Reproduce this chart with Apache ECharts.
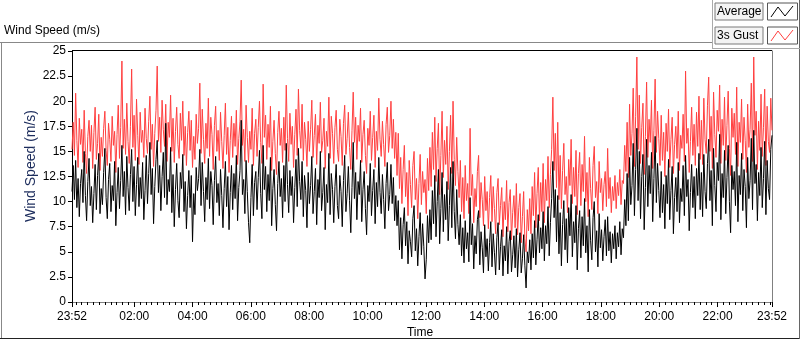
<!DOCTYPE html>
<html>
<head>
<meta charset="utf-8">
<script src="https://cdn.jsdelivr.net/npm/echarts@6/dist/echarts.min.js"></script>
<style>
  html, body { margin: 0; padding: 0; background: #fff; }
  #chart { width: 800px; height: 342px; }
</style>
</head>
<body>
<div id="chart"></div>
<script>
// 3s gust, one reading every 2.5 min from 23:52 to 23:52
const gust = [
  15.2, 17.9, 14.6, 20.8, 16.1, 13.4, 18.3, 15.7, 17.2, 13.9, 19.1, 14.8,
  12.8, 16.5, 18.1, 15.0, 17.6, 13.3, 16.9, 19.4, 14.2, 15.8, 18.7, 13.1,
  16.4, 14.5, 17.3, 19.0, 15.1, 13.6, 17.8, 16.2, 14.0, 18.5, 15.6, 17.0,
  12.9, 16.7, 19.6, 14.3, 17.4, 24.0, 15.3, 18.2, 14.7, 19.8, 16.0, 13.8,
  17.5, 23.2, 15.4, 18.6, 14.1, 20.2, 16.6, 13.7, 18.9, 15.9, 17.1, 14.4,
  19.3, 16.3, 14.8, 18.0, 20.5, 15.2, 17.7, 13.5, 16.8, 19.1, 23.5, 16.0,
  18.4, 14.9, 20.1, 17.2, 15.5, 19.7, 14.0, 17.9, 16.4, 20.6, 15.0, 18.3,
  13.9, 17.0, 19.4, 15.7, 14.3, 18.8, 16.1, 20.0, 14.6, 17.5, 13.6, 16.9,
  19.0, 15.1, 18.1, 13.4, 16.5, 14.2, 18.7, 15.8, 17.3, 21.8, 14.8, 19.2,
  16.2, 13.8, 17.8, 15.3, 20.3, 14.5, 18.4, 16.7, 13.2, 17.6, 19.5, 15.0,
  17.1, 14.1, 18.9, 16.0, 13.3, 16.6, 19.8, 14.7, 17.4, 12.9, 16.1, 18.5,
  14.4, 17.8, 15.5, 19.1, 13.7, 16.3, 18.0, 22.1, 15.6, 17.2, 14.0, 19.6, 16.4, 13.9,
  17.0, 15.2, 19.3, 13.6, 16.8, 18.2, 14.5, 17.4, 20.0, 15.9, 13.8, 21.7,
  16.4, 18.6, 14.2, 17.7, 15.4, 19.5, 13.1, 16.0, 18.1, 14.8, 12.7, 16.9,
  19.0, 15.6, 17.3, 13.9, 18.4, 15.1, 21.6, 16.3, 14.0, 18.8, 15.7, 17.5,
  13.4, 16.7, 19.2, 14.6, 21.2, 17.1, 15.3, 19.7, 14.1, 17.9, 16.2, 13.5,
  18.0, 15.0, 17.2, 20.1, 14.4, 16.6, 18.7, 13.7, 17.6, 15.8, 19.9, 14.9,
  16.1, 18.3, 13.3, 17.0, 15.5, 20.4, 14.3, 18.5, 16.8, 13.8, 17.4, 19.1,
  15.2, 14.0, 18.2, 16.5, 13.6, 17.8, 19.6, 14.7, 16.3, 18.9, 15.4, 13.2,
  17.1, 20.9, 15.9, 18.4, 14.2, 17.6, 16.0, 19.3, 13.9, 16.7, 18.1, 14.6,
  12.8, 17.3, 15.6, 19.0, 14.1, 16.4, 18.6, 13.4, 17.0, 15.1, 20.3, 16.2,
  14.5, 18.0, 15.7, 13.5, 17.7, 19.4, 14.9, 16.6, 20.0, 15.3, 18.2, 14.3, 16.9,
  12.6, 16.8, 11.3, 14.4, 9.8, 13.2, 15.6, 10.5, 12.9, 8.6, 14.1, 11.7,
  9.4, 13.6, 15.0, 10.2, 12.3, 8.3, 11.8, 14.7, 9.7, 13.0, 10.9, 12.2, 8.8, 14.3, 11.1, 15.4,
  11.5, 16.9, 13.2, 18.4, 12.0, 15.3, 17.8, 10.7, 14.6, 19.0, 12.4, 16.1,
  13.7, 17.5, 11.2, 15.0, 18.6, 12.8, 20.0, 14.2, 11.6, 16.4, 13.0, 10.4,
  14.1, 9.0, 12.4, 8.3, 13.6, 10.1, 11.8, 8.8, 17.3, 10.6, 12.7, 7.9,
  11.3, 9.5, 13.0, 14.6, 8.4, 11.9, 10.2, 7.6, 12.5, 9.1, 11.0, 7.3,
  10.4, 12.6, 8.0, 11.5, 9.3, 6.8, 10.9, 12.3, 7.7, 9.6, 11.4, 6.5,
  10.0, 8.2, 12.1, 7.0, 9.9, 11.2, 6.2, 8.9, 10.6, 7.4, 11.8, 6.7,
  9.4, 10.8, 5.9, 8.5, 11.0, 6.3, 5.0, 9.2, 7.1, 10.3,
  6.8, 11.5, 8.6, 12.9, 7.4, 10.8, 13.4, 8.1, 11.9, 9.0, 13.8, 7.9,
  12.2, 10.1, 14.5, 9.4, 12.7, 15.2, 20.4, 13.1, 16.8,
  11.4, 17.9, 10.2, 14.6, 9.3, 13.1, 15.8, 10.7, 12.5, 8.9, 14.2, 11.6,
  16.2, 9.8, 13.4, 10.5, 15.1, 8.7, 12.8, 14.9, 9.6, 13.7, 11.0, 16.5,
  10.0, 12.9, 8.5, 14.4, 11.3, 9.2, 13.6, 15.5, 10.4, 12.0, 8.8, 14.0,
  10.9, 12.3, 9.1, 11.7, 13.0, 9.5, 15.3, 10.3, 12.4, 8.9, 11.5, 10.1,
  12.6, 9.3, 11.9, 10.6, 13.2, 9.7, 12.1,
  11.8, 15.6, 13.0, 17.9, 12.4, 19.7, 14.6, 16.8, 21.3, 13.5, 18.5, 24.4,
  15.2, 20.6, 13.8, 17.4, 19.8, 12.7, 16.5, 21.9, 14.4, 18.2, 15.9, 20.1,
  13.3, 17.1, 22.2, 14.9, 19.0, 16.3, 13.6,
  18.6, 14.1, 16.9, 12.5, 17.8, 15.0, 19.2, 13.4, 16.2, 18.4, 12.8, 15.7,
  17.5, 14.3, 19.0, 13.1, 16.6, 15.3, 18.7, 14.0, 23.0, 15.8, 17.3, 12.9,
  16.0, 19.4, 14.6, 17.7, 13.6, 18.9, 15.5, 20.5, 14.2,
  18.1, 13.7, 20.3, 16.2, 14.8, 19.6, 22.4, 15.0, 18.5, 13.3, 20.9, 16.7,
  14.4, 19.1, 17.0, 21.6, 13.8, 18.2, 15.6, 20.4, 14.1, 17.6, 21.0, 15.3,
  12.6, 19.3, 16.4, 18.8, 14.7, 21.4, 13.5, 17.9, 15.9, 20.2, 14.2, 18.4,
  16.1, 12.9, 19.7, 15.4, 17.2, 21.8, 14.0, 24.4, 16.6, 19.0, 13.2, 18.0,
  15.1, 20.7, 14.5, 17.4, 21.2, 13.6, 19.5, 16.0, 14.9, 20.3, 17.1
];

// average wind speed at the same instants
const average = [
  11.0, 13.6, 10.2, 14.1, 9.4, 12.3, 8.5, 11.8, 13.2, 9.9, 15.0, 10.6,
  8.1, 12.0, 14.3, 9.6, 11.5, 7.9, 10.8, 13.7, 9.2, 12.6, 14.8, 8.8,
  11.3, 9.7, 12.9, 15.3, 10.4, 8.3, 12.2, 13.8, 9.0, 11.6, 10.1, 14.0,
  7.6, 10.9, 13.4, 9.3, 12.1, 15.6, 10.5, 13.0, 8.7, 14.5, 11.4, 9.1,
  12.7, 15.2, 10.0, 13.5, 8.6, 11.7, 14.4, 9.5, 12.4, 10.3, 13.9, 8.2,
  11.1, 14.6, 9.8, 12.8, 15.9, 10.7, 13.3, 7.8, 11.5, 14.2, 16.1, 10.9,
  13.6, 9.1, 12.5, 14.9, 10.4, 17.8, 9.7, 12.2, 11.0, 15.4, 8.9, 12.7,
  7.5, 11.2, 13.8, 10.1, 8.4, 12.9, 11.3, 14.7, 9.0, 12.0, 7.3, 10.6,
  13.1, 9.4, 12.6, 6.0, 10.8, 8.7, 13.4, 11.1, 12.3, 15.2, 9.6, 13.9,
  11.0, 8.0, 12.4, 10.2, 14.3, 9.3, 13.0, 11.6, 7.7, 12.1, 14.5, 9.9,
  11.8, 8.6, 13.2, 10.6, 7.4, 11.3, 14.0, 9.5, 12.5, 7.2, 10.9, 13.6,
  9.2, 12.8, 10.3, 14.6, 8.1, 11.4, 13.1, 18.1, 10.7, 12.2, 8.8, 14.1, 11.0, 7.9,
  5.9, 10.4, 13.7, 8.6, 11.9, 13.0, 9.2, 12.4, 15.1, 10.8, 8.3, 15.6,
  11.2, 13.5, 9.0, 12.7, 10.1, 14.4, 7.6, 11.3, 13.2, 9.7, 7.1, 11.8,
  14.0, 10.5, 12.3, 8.4, 13.6, 10.0, 15.8, 11.7, 8.9, 13.1, 10.6, 12.5,
  7.9, 11.4, 14.2, 9.5, 15.3, 12.0, 10.2, 14.0, 8.5, 12.6, 11.1, 7.4,
  12.9, 9.8, 11.6, 14.5, 8.8, 11.0, 13.3, 7.7, 12.2, 10.4, 15.0, 9.1,
  10.9, 13.4, 7.2, 11.7, 9.9, 14.8, 8.7, 12.8, 11.2, 7.9, 11.5, 13.7,
  9.6, 8.3, 12.6, 11.0, 7.5, 12.1, 14.6, 9.0, 10.8, 13.5, 10.1, 6.9,
  11.4, 15.9, 10.3, 12.9, 8.2, 12.0, 10.7, 14.1, 8.0, 11.2, 13.0, 9.3,
  6.7, 11.6, 10.0, 13.8, 8.6, 11.1, 13.2, 7.8, 11.9, 9.5, 14.4, 10.9,
  8.8, 12.7, 10.2, 7.3, 11.8, 13.9, 9.1, 10.7, 13.7, 9.8, 12.4, 8.1, 10.6,
  7.6, 10.1, 5.2, 8.4, 4.3, 7.7, 9.4, 5.6, 8.0, 3.8, 7.1, 6.0,
  4.5, 8.3, 9.6, 5.1, 7.3, 3.6, 6.5, 8.9, 4.7, 7.8, 5.5, 2.3, 4.2, 8.6, 5.9, 9.2,
  6.2, 11.1, 7.8, 12.6, 6.5, 10.0, 13.2, 5.8, 9.3, 12.9, 7.0, 10.7,
  8.2, 12.0, 6.1, 9.6, 13.4, 7.4, 14.0, 9.0, 6.3, 11.2, 7.7, 5.7,
  8.7, 4.6, 7.4, 3.9, 8.1, 5.3, 6.9, 4.0, 10.4, 5.7, 7.8, 3.3,
  6.6, 4.8, 8.2, 9.1, 3.7, 7.0, 5.4, 2.9, 7.7, 4.5, 6.3, 3.1,
  5.9, 8.0, 3.5, 6.8, 4.9, 2.7, 6.4, 7.9, 3.2, 5.5, 7.2, 2.6,
  5.6, 4.1, 7.5, 2.8, 6.0, 7.1, 3.0, 4.7, 6.6, 3.4, 7.3, 2.5,
  5.2, 6.9, 2.9, 4.3, 6.7, 3.6, 1.4, 5.0, 3.9, 6.2,
  3.2, 6.8, 4.4, 8.1, 3.7, 6.2, 8.7, 4.9, 7.4, 5.3, 9.0, 4.1,
  7.6, 5.8, 9.5, 4.6, 7.9, 10.3, 14.0, 8.4, 11.2,
  6.0, 10.6, 4.8, 8.9, 3.6, 7.7, 10.1, 5.2, 8.3, 3.9, 9.4, 6.6,
  10.7, 4.5, 8.0, 5.9, 9.6, 3.2, 7.3, 9.1, 4.4, 8.5, 5.6, 10.3,
  4.9, 7.6, 3.0, 9.2, 6.1, 4.2, 8.4, 10.0, 5.0, 7.1, 3.5, 8.8,
  5.4, 7.2, 4.1, 6.5, 8.2, 4.6, 8.5, 5.1, 7.0, 3.9, 6.8, 5.3,
  7.6, 4.3, 6.9, 5.5, 8.0, 4.7, 7.3,
  6.4, 10.2, 7.6, 12.8, 8.1, 14.4, 9.7, 11.6, 15.8, 8.6, 13.2, 17.3,
  10.1, 15.0, 8.3, 12.5, 14.7, 7.2, 11.4, 16.2, 9.5, 13.6, 10.8, 14.9,
  8.0, 12.3, 16.5, 9.9, 13.8, 11.1, 8.4,
  13.0, 8.9, 11.7, 7.3, 12.6, 9.8, 14.2, 8.2, 11.1, 13.5, 6.8, 10.4,
  12.4, 9.0, 13.9, 7.9, 11.3, 10.0, 13.6, 8.6, 14.6, 10.5, 12.2, 7.1,
  10.9, 13.7, 9.4, 12.5, 8.3, 13.3, 10.6, 14.8, 9.2,
  12.9, 8.5, 14.7, 11.0, 9.3, 13.8, 16.2, 10.1, 13.1, 7.6, 15.3, 11.6,
  9.0, 13.9, 12.1, 16.7, 8.2, 12.8, 10.4, 15.1, 8.8, 12.4, 15.6, 10.0,
  6.9, 13.6, 11.2, 13.0, 9.6, 15.9, 8.0, 12.6, 10.7, 14.8, 9.1, 13.2,
  11.5, 7.4, 14.4, 10.3, 12.1, 16.3, 9.2, 17.1, 11.8, 13.7, 8.1, 12.9,
  10.6, 15.4, 9.4, 12.3, 16.0, 8.7, 14.1, 11.3, 10.2, 15.2, 16.6
];

// x axis in minutes after 23:52
const spanMinutes = 1440;
const majorTicks = [0, 128, 248, 368, 488, 608, 728, 848, 968, 1088, 1208, 1328, 1440];
const majorLabels = ["23:52", "02:00", "04:00", "06:00", "08:00", "10:00", "12:00", "14:00", "16:00", "18:00", "20:00", "22:00", "23:52"];
const minorTicks = [];
for (let m = 8; m < spanMinutes; m += 12) minorTicks.push(m);

const yTicks = ["0", "2.5", "5", "7.5", "10", "12.5", "15", "17.5", "20", "22.5", "25"];

const gustData = gust.map((v, i) => [i * spanMinutes / (gust.length - 1), v]);
const avgData = average.map((v, i) => [i * spanMinutes / (average.length - 1), v]);

const FONT = "Liberation Sans";
const chart = echarts.init(document.getElementById("chart"));

const legendBox = (y, label, color) => [
  {
    type: "rect",
    shape: { x: 715, y: y, width: 48, height: 17 },
    style: { fill: "#f4f4f4", stroke: "#7a7a7a", lineWidth: 1 },
  },
  {
    type: "text",
    x: 717, y: y + 9,
    style: { text: label, font: "12px " + FONT, fill: "#000", verticalAlign: "middle" },
  },
  {
    type: "rect",
    shape: { x: 767.5, y: y, width: 30, height: 17 },
    style: { fill: "#fff", stroke: "#555", lineWidth: 1 },
  },
  {
    type: "polyline",
    shape: { points: [[771, y + 14], [778, y + 4], [785, y + 13], [793, y + 3]] },
    style: { stroke: color, lineWidth: 1, fill: null },
  },
];

chart.setOption({
  animation: false,
  backgroundColor: "#fff",
  grid: { left: 72, right: 28, top: 51, bottom: 40 },
  xAxis: [
    {
      type: "value",
      min: 0,
      max: spanMinutes,
      axisLine: { show: true, lineStyle: { color: "#808080", width: 1 } },
      axisTick: { show: true, customValues: majorTicks, length: 5, lineStyle: { color: "#000" } },
      axisLabel: {
        customValues: majorTicks,
        margin: 9,
        color: "#000",
        fontFamily: FONT,
        fontSize: 12,
        formatter: (v) => majorLabels[majorTicks.indexOf(v)] || "",
      },
      splitLine: { show: false },
    },
    {
      type: "value",
      min: 0,
      max: spanMinutes,
      position: "bottom",
      axisLine: { show: false },
      axisTick: { show: true, customValues: minorTicks, length: 3, lineStyle: { color: "#000" } },
      axisLabel: { show: false },
      splitLine: { show: false },
    },
  ],
  yAxis: {
    type: "value",
    min: 0,
    max: 25,
    interval: 2.5,
    axisLine: { show: true, lineStyle: { color: "#000", width: 1 } },
    axisTick: { show: true, inside: false, length: 4, lineStyle: { color: "#000" } },
    axisLabel: {
      margin: 6,
      color: "#000",
      fontFamily: FONT,
      fontSize: 12,
      formatter: (v) => yTicks[Math.round(v / 2.5)],
    },
    splitLine: { show: false },
  },
  series: [
    {
      name: "3s Gust",
      type: "line",
      data: gustData,
      showSymbol: false,
      sampling: "none",
      lineStyle: { color: "#ff4040", width: 1 },
      z: 2,
    },
    {
      name: "Average",
      type: "line",
      data: avgData,
      showSymbol: false,
      sampling: "none",
      lineStyle: { color: "#000", width: 1 },
      z: 3,
    },
  ],
  graphic: [
    // outer frame
    { type: "line", shape: { x1: 0, y1: 42.5, x2: 712, y2: 42.5 }, style: { stroke: "#888", lineWidth: 1 } },
    { type: "line", shape: { x1: 1.5, y1: 42.5, x2: 1.5, y2: 339 }, style: { stroke: "#888", lineWidth: 1 } },
    { type: "line", shape: { x1: 0, y1: 338.5, x2: 800, y2: 338.5 }, style: { stroke: "#222", lineWidth: 1 } },
    { type: "line", shape: { x1: 799.5, y1: 0, x2: 799.5, y2: 339 }, style: { stroke: "#666", lineWidth: 1 } },
    // legend panel edges
    { type: "line", shape: { x1: 712.5, y1: 0, x2: 712.5, y2: 49 }, style: { stroke: "#aaa", lineWidth: 1 } },
    { type: "line", shape: { x1: 712, y1: 48.5, x2: 800, y2: 48.5 }, style: { stroke: "#aaa", lineWidth: 1 } },
    // plot frame top and right
    { type: "line", shape: { x1: 72, y1: 50.5, x2: 772, y2: 50.5 }, style: { stroke: "#000", lineWidth: 1 } },
    { type: "line", shape: { x1: 772.5, y1: 50.5, x2: 772.5, y2: 302 }, style: { stroke: "#808080", lineWidth: 1 } },
    // titles
    {
      type: "text", x: 4, y: 31,
      style: { text: "Wind Speed (m/s)", font: "12px " + FONT, fill: "#000", verticalAlign: "middle" },
    },
    {
      type: "text", x: 31, y: 166, rotation: Math.PI / 2,
      style: { text: "Wind Speed (m/s)", font: "14px " + FONT, fill: "#1c2c5c", align: "center", verticalAlign: "middle" },
    },
    {
      type: "text", x: 420, y: 333,
      style: { text: "Time", font: "12px " + FONT, fill: "#000", align: "center", verticalAlign: "middle" },
    },
    ...legendBox(3, "Average", "#000"),
    ...legendBox(27, "3s Gust", "#ff4040"),
  ],
});
</script>
</body>
</html>
